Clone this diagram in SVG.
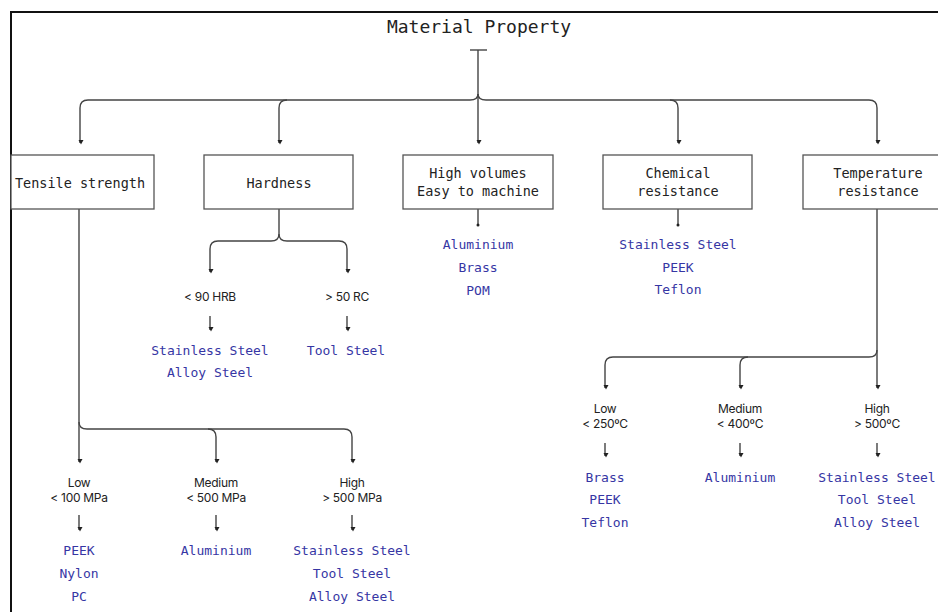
<svg xmlns="http://www.w3.org/2000/svg" width="938" height="612" viewBox="0 0 938 612">
<style>
.frame{fill:#fff;stroke:#111;stroke-width:2}
.box{fill:#fff;stroke:#555;stroke-width:1.3}
.ln{fill:none;stroke:#444;stroke-width:1.4}
.t{font-family:"DejaVu Sans Mono","Liberation Mono",monospace;font-size:13.5px;fill:#222;text-anchor:middle}
.ttl{font-family:"DejaVu Sans Mono","Liberation Mono",monospace;font-size:18px;fill:#222;text-anchor:middle}
.s{font-family:Inter,"Liberation Sans",sans-serif;font-size:12px;fill:#222;text-anchor:middle;letter-spacing:-0.3px}
.m{font-family:"DejaVu Sans Mono","Liberation Mono",monospace;font-size:13px;fill:#3636a4;text-anchor:middle}
</style>
<defs>
<marker id="ah" markerUnits="userSpaceOnUse" markerWidth="6" markerHeight="6" refX="3" refY="4" orient="auto-start-reverse" viewBox="0 0 6 6">
<path d="M0.5,0 L5.5,0 L3,4.5 z" fill="#222" transform="rotate(-90 3 3)"/>
</marker>
<marker id="dt" markerUnits="userSpaceOnUse" markerWidth="4" markerHeight="4" refX="2" refY="2" viewBox="0 0 4 4">
<circle cx="2" cy="2" r="1.5" fill="#222"/>
</marker>
</defs>
<rect x="0" y="0" width="938" height="612" fill="#fff"/>
<rect class="frame" x="11" y="12" width="945" height="620"/>
<g id="title"><text class="ttl" x="479" y="33">Material Property</text></g>
<g id="connectors">
<path class="ln" d="M470,50 L487,50"/>
<path class="ln" d="M478,50 L478,143" marker-end="url(#ah)"/>
<path class="ln" d="M478,94 Q478,100 470,100 L88,100 Q80,100 80,108 L80,143" marker-end="url(#ah)"/>
<path class="ln" d="M287,100 Q279,100 279,108 L279,143" marker-end="url(#ah)"/>
<path class="ln" d="M478,94 Q478,100 486,100 L869,100 Q877,100 877,108 L877,143" marker-end="url(#ah)"/>
<path class="ln" d="M670,100 Q678,100 678,108 L678,143" marker-end="url(#ah)"/>
<path class="ln" d="M79,209 L79,462" marker-end="url(#ah)"/>
<path class="ln" d="M79,422 Q79,429 87,429 L208,429 Q216,429 216,437 L216,462" marker-end="url(#ah)"/>
<path class="ln" d="M208,429 L344,429 Q352,429 352,437 L352,462" marker-end="url(#ah)"/>
<path class="ln" d="M279,209 L279,234 Q279,241 271,241 L218,241 Q210,241 210,249 L210,272" marker-end="url(#ah)"/>
<path class="ln" d="M279,234 Q279,241 287,241 L339,241 Q347,241 347,249 L347,272" marker-end="url(#ah)"/>
<path class="ln" d="M478,209 L478,225" marker-end="url(#dt)"/>
<path class="ln" d="M678,209 L678,225" marker-end="url(#dt)"/>
<path class="ln" d="M877,209 L877,388" marker-end="url(#ah)"/>
<path class="ln" d="M877,350 Q877,357 869,357 L613,357 Q605,357 605,365 L605,388" marker-end="url(#ah)"/>
<path class="ln" d="M748,357 Q740,357 740,365 L740,388" marker-end="url(#ah)"/>
<path class="ln" d="M79,515 L79,530" marker-end="url(#ah)"/>
<path class="ln" d="M216,515 L216,530" marker-end="url(#ah)"/>
<path class="ln" d="M352,515 L352,530" marker-end="url(#ah)"/>
<path class="ln" d="M210,316 L210,330" marker-end="url(#ah)"/>
<path class="ln" d="M347,316 L347,330" marker-end="url(#ah)"/>
<path class="ln" d="M605,443 L605,456" marker-end="url(#ah)"/>
<path class="ln" d="M740,443 L740,456" marker-end="url(#ah)"/>
<path class="ln" d="M877,443 L877,456" marker-end="url(#ah)"/>
</g>
<g id="tensile"><rect class="box" x="11" y="155" width="143" height="54"/><text class="t" x="80" y="188">Tensile strength</text></g>
<g id="hardness"><rect class="box" x="204" y="155" width="149" height="54"/><text class="t" x="279" y="188">Hardness</text></g>
<g id="highvol"><rect class="box" x="403" y="155" width="150" height="54"/><text class="t" x="478" y="178">High volumes</text><text class="t" x="478" y="196">Easy to machine</text></g>
<g id="chemical"><rect class="box" x="603" y="155" width="149" height="54"/><text class="t" x="678" y="178">Chemical</text><text class="t" x="678" y="196">resistance</text></g>
<g id="temperature"><rect class="box" x="803" y="155" width="150" height="54"/><text class="t" x="878" y="178">Temperature</text><text class="t" x="878" y="196">resistance</text></g>
<g id="ts-low"><text class="s" x="79" y="487">Low</text><text class="s" x="79" y="502">&lt; 100 MPa</text><text class="m" x="79" y="555">PEEK</text><text class="m" x="79" y="578">Nylon</text><text class="m" x="79" y="601">PC</text></g>
<g id="ts-med"><text class="s" x="216" y="487">Medium</text><text class="s" x="216" y="502">&lt; 500 MPa</text><text class="m" x="216" y="555">Aluminium</text></g>
<g id="ts-high"><text class="s" x="352" y="487">High</text><text class="s" x="352" y="502">&gt; 500 MPa</text><text class="m" x="352" y="555">Stainless Steel</text><text class="m" x="352" y="578">Tool Steel</text><text class="m" x="352" y="601">Alloy Steel</text></g>
<g id="hd-low"><text class="s" x="210" y="301">&lt; 90 HRB</text><text class="m" x="210" y="355">Stainless Steel</text><text class="m" x="210" y="377">Alloy Steel</text></g>
<g id="hd-high"><text class="s" x="347" y="301">&gt; 50 RC</text><text class="m" x="346" y="355">Tool Steel</text></g>
<g id="hv-mat"><text class="m" x="478" y="249">Aluminium</text><text class="m" x="478" y="272">Brass</text><text class="m" x="478" y="295">POM</text></g>
<g id="ch-mat"><text class="m" x="678" y="249">Stainless Steel</text><text class="m" x="678" y="272">PEEK</text><text class="m" x="678" y="294">Teflon</text></g>
<g id="tp-low"><text class="s" x="605" y="413">Low</text><text class="s" x="605" y="428">&lt; 250ºC</text><text class="m" x="605" y="482">Brass</text><text class="m" x="605" y="504">PEEK</text><text class="m" x="605" y="527">Teflon</text></g>
<g id="tp-med"><text class="s" x="740" y="413">Medium</text><text class="s" x="740" y="428">&lt; 400ºC</text><text class="m" x="740" y="482">Aluminium</text></g>
<g id="tp-high"><text class="s" x="877" y="413">High</text><text class="s" x="877" y="428">&gt; 500ºC</text><text class="m" x="877" y="482">Stainless Steel</text><text class="m" x="877" y="504">Tool Steel</text><text class="m" x="877" y="527">Alloy Steel</text></g>
</svg>
